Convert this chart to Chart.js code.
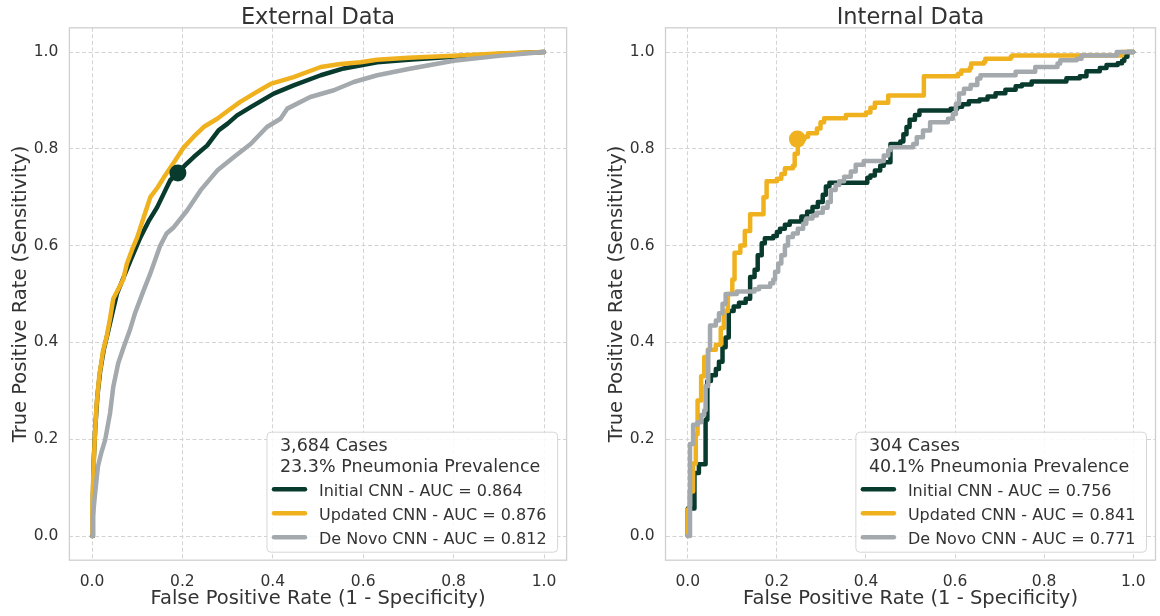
<!DOCTYPE html>
<html><head><meta charset="utf-8">
<script src="https://cdn.jsdelivr.net/npm/chart.js@4.4.0/dist/chart.umd.min.js"></script>
<style>
html,body{margin:0;padding:0;background:#fff;}
#wrap{position:relative;width:1160px;height:616px;overflow:hidden;background:#fff;}
canvas{position:absolute;top:0;}
</style></head><body>
<div id="wrap">
<canvas id="c1" width="580" height="616" style="left:0px"></canvas>
<canvas id="c2" width="584" height="616" style="left:580px"></canvas>
</div>
<script>
// ---------- data ----------
const TICKS = [0, 0.2, 0.4, 0.6, 0.8, 1.0];
const PANEL_TITLES = ['External Data', 'Internal Data'];
const X_TITLE = 'False Positive Rate (1 - Specificity)';
const Y_TITLE = 'True Positive Rate (Sensitivity)';
const MODELS = ['Initial CNN', 'Updated CNN', 'De Novo CNN'];
const EXT_AUC = ['0.864', '0.876', '0.812'];
const INT_AUC = ['0.756', '0.841', '0.771'];
const EXT_NOTE = ['3,684 Cases', '23.3% Pneumonia Prevalence'];
const INT_NOTE = ['304 Cases', '40.1% Pneumonia Prevalence'];

// External data ROC curves [fpr, tpr]
const EXT_INITIAL = [[0,0],[0.002,0.08],[0.004,0.16],[0.007,0.22],[0.012,0.29],[0.018,0.34],[0.026,0.385],[0.035,0.42],[0.045,0.46],[0.055,0.5],[0.068,0.53],[0.085,0.569],[0.107,0.617],[0.125,0.65],[0.144,0.679],[0.16,0.71],[0.173,0.735],[0.19,0.75],[0.205,0.765],[0.225,0.783],[0.255,0.807],[0.28,0.838],[0.3,0.852],[0.321,0.869],[0.351,0.886],[0.402,0.914],[0.446,0.931],[0.506,0.952],[0.557,0.966],[0.631,0.979],[0.7,0.984],[0.8,0.99],[0.9,0.996],[1,1]];
const EXT_UPDATED = [[0,0],[0.001,0.06],[0.003,0.13],[0.006,0.2],[0.01,0.27],[0.016,0.33],[0.024,0.38],[0.032,0.41],[0.04,0.45],[0.047,0.49],[0.058,0.51],[0.069,0.53],[0.077,0.562],[0.09,0.595],[0.1,0.617],[0.115,0.66],[0.129,0.7],[0.145,0.72],[0.159,0.741],[0.18,0.77],[0.203,0.803],[0.225,0.825],[0.247,0.845],[0.277,0.862],[0.3,0.878],[0.328,0.897],[0.36,0.915],[0.395,0.934],[0.446,0.948],[0.506,0.969],[0.55,0.975],[0.594,0.979],[0.63,0.984],[0.7,0.988],[0.8,0.992],[0.9,0.997],[1,1]];
const EXT_DENOVO = [[0,0],[0.002,0.04],[0.006,0.08],[0.013,0.143],[0.02,0.17],[0.029,0.198],[0.04,0.254],[0.047,0.308],[0.058,0.357],[0.07,0.39],[0.084,0.426],[0.095,0.46],[0.114,0.507],[0.128,0.54],[0.151,0.6],[0.165,0.625],[0.181,0.638],[0.21,0.672],[0.24,0.714],[0.277,0.755],[0.314,0.783],[0.351,0.81],[0.387,0.845],[0.417,0.862],[0.432,0.883],[0.483,0.907],[0.535,0.921],[0.579,0.938],[0.631,0.952],[0.7,0.965],[0.8,0.982],[0.9,0.992],[1,1]];
const EXT_OPERATING = [[0.19, 0.75]];

// Internal data ROC curves [fpr where the step rises, tpr after the rise]
const INT_INITIAL = [[0,0],[0,0.057],[0.015,0.13],[0.025,0.148],[0.04,0.24],[0.044,0.32],[0.052,0.332],[0.063,0.345],[0.07,0.36],[0.078,0.39],[0.085,0.41],[0.092,0.465],[0.103,0.474],[0.115,0.482],[0.13,0.49],[0.14,0.535],[0.15,0.55],[0.157,0.58],[0.166,0.605],[0.173,0.615],[0.192,0.62],[0.2,0.628],[0.207,0.635],[0.218,0.643],[0.229,0.65],[0.255,0.66],[0.268,0.67],[0.28,0.68],[0.292,0.69],[0.303,0.705],[0.31,0.722],[0.318,0.73],[0.403,0.74],[0.41,0.745],[0.42,0.755],[0.432,0.765],[0.44,0.772],[0.455,0.81],[0.477,0.815],[0.484,0.83],[0.491,0.845],[0.498,0.86],[0.51,0.87],[0.52,0.879],[0.59,0.883],[0.605,0.887],[0.616,0.892],[0.631,0.898],[0.655,0.902],[0.673,0.908],[0.691,0.915],[0.713,0.922],[0.736,0.929],[0.75,0.933],[0.772,0.939],[0.85,0.946],[0.88,0.95],[0.895,0.96],[0.925,0.967],[0.94,0.973],[0.965,0.977],[0.975,0.982],[0.98,0.99],[0.987,1.0],[1,1]];
const INT_UPDATED = [[0,0],[0,0.055],[0.004,0.092],[0.012,0.15],[0.018,0.21],[0.022,0.28],[0.03,0.33],[0.037,0.37],[0.045,0.385],[0.063,0.395],[0.074,0.43],[0.081,0.465],[0.09,0.5],[0.1,0.53],[0.105,0.585],[0.118,0.6],[0.128,0.63],[0.14,0.665],[0.17,0.7],[0.177,0.733],[0.2,0.738],[0.21,0.748],[0.218,0.76],[0.236,0.765],[0.24,0.79],[0.247,0.82],[0.262,0.825],[0.27,0.832],[0.29,0.842],[0.298,0.855],[0.306,0.863],[0.355,0.87],[0.4,0.875],[0.41,0.885],[0.42,0.895],[0.45,0.91],[0.53,0.95],[0.607,0.955],[0.614,0.962],[0.633,0.967],[0.636,0.976],[0.665,0.98],[0.668,0.986],[0.725,0.99],[0.728,0.993],[0.975,1.0],[1,1]];
const INT_DENOVO = [[0,0],[0.005,0.19],[0.012,0.23],[0.022,0.235],[0.03,0.25],[0.037,0.26],[0.04,0.31],[0.046,0.385],[0.05,0.435],[0.063,0.445],[0.07,0.46],[0.078,0.48],[0.085,0.5],[0.11,0.505],[0.15,0.51],[0.16,0.515],[0.185,0.522],[0.192,0.53],[0.196,0.546],[0.203,0.563],[0.21,0.58],[0.218,0.6],[0.225,0.618],[0.236,0.625],[0.247,0.635],[0.259,0.645],[0.266,0.656],[0.28,0.662],[0.29,0.668],[0.303,0.678],[0.314,0.69],[0.321,0.715],[0.332,0.725],[0.34,0.733],[0.351,0.742],[0.366,0.753],[0.377,0.767],[0.395,0.775],[0.44,0.786],[0.45,0.797],[0.455,0.803],[0.506,0.81],[0.514,0.824],[0.528,0.838],[0.544,0.855],[0.584,0.862],[0.595,0.872],[0.602,0.893],[0.609,0.914],[0.62,0.924],[0.635,0.932],[0.65,0.945],[0.657,0.952],[0.736,0.959],[0.78,0.969],[0.83,0.976],[0.836,0.983],[0.873,0.986],[0.884,0.993],[0.963,1.0],[1,1]];
const INT_OPERATING = [[0.246, 0.82]];

// ---------- styles ----------
const COLORS = ['#083b2d', '#f0b11e', '#a3a9ac'];
const FONT = '"DejaVu Sans", "Liberation Sans", sans-serif';
const TEXT = '#333333';
const GRID = '#d3d3d3';
const FRAME = '#cfcfcf';

const toXY = arr => arr.map(p => ({x: p[0], y: p[1]}));

const framePlugin = {
  id: 'frame',
  beforeDatasetsDraw(chart) {
    const {ctx, chartArea: a} = chart;
    ctx.save();
    ctx.strokeStyle = FRAME;
    ctx.lineWidth = 1.3;
    ctx.strokeRect(a.left, a.top, a.right - a.left, a.bottom - a.top);
    ctx.restore();
  }
};

const titlePlugin = {
  id: 'panelTitle',
  afterDraw(chart, args, opts) {
    const {ctx, chartArea: a} = chart;
    ctx.save();
    ctx.font = '22.5px ' + FONT;
    ctx.fillStyle = TEXT;
    ctx.textAlign = 'center';
    ctx.textBaseline = 'alphabetic';
    ctx.fillText(opts.text, (a.left + a.right) / 2, 23.5);
    ctx.restore();
  }
};

function roundRectPath(ctx, x, y, w, h, r) {
  ctx.beginPath();
  ctx.moveTo(x + r, y);
  ctx.lineTo(x + w - r, y);
  ctx.arcTo(x + w, y, x + w, y + r, r);
  ctx.lineTo(x + w, y + h - r);
  ctx.arcTo(x + w, y + h, x + w - r, y + h, r);
  ctx.lineTo(x + r, y + h);
  ctx.arcTo(x, y + h, x, y + h - r, r);
  ctx.lineTo(x, y + r);
  ctx.arcTo(x, y, x + r, y, r);
  ctx.closePath();
}

const legendPlugin = {
  id: 'boxLegend',
  afterDatasetsDraw(chart, args, opts) {
    const {ctx, chartArea: a} = chart;
    const items = chart.data.datasets.filter(d => d.inLegend);
    ctx.save();
    const noteFont = '17.5px ' + FONT, itemFont = '16px ' + FONT;
    let w = 0;
    ctx.font = noteFont;
    opts.notes.forEach(n => { w = Math.max(w, ctx.measureText(n).width + 24); });
    ctx.font = itemFont;
    items.forEach(d => { w = Math.max(w, ctx.measureText(d.label).width + 63); });
    const h = 120;
    const x0 = a.right - 9 - w, y0 = a.bottom - 8 - h;
    roundRectPath(ctx, x0, y0, w, h, 4);
    ctx.fillStyle = 'rgba(255,255,255,0.85)';
    ctx.fill();
    ctx.strokeStyle = '#d6d6d6';
    ctx.lineWidth = 1;
    ctx.stroke();
    ctx.fillStyle = TEXT;
    ctx.textAlign = 'left';
    ctx.textBaseline = 'alphabetic';
    ctx.font = noteFont;
    ctx.fillText(opts.notes[0], x0 + 13, y0 + 19);
    ctx.fillText(opts.notes[1], x0 + 13, y0 + 40);
    ctx.font = itemFont;
    items.forEach((d, i) => {
      const ly = y0 + 57 + i * 24;
      ctx.strokeStyle = d.borderColor;
      ctx.lineWidth = 4.5;
      ctx.lineCap = 'round';
      ctx.beginPath();
      ctx.moveTo(x0 + 7, ly);
      ctx.lineTo(x0 + 38, ly);
      ctx.stroke();
      ctx.fillStyle = TEXT;
      ctx.fillText(d.label, x0 + 52, ly + 6.5);
    });
    ctx.restore();
  }
};

function makeChart(id, title, curves, aucs, notes, op, opColor, stepped, yWidth, padRight) {
  const datasets = curves.map((c, i) => ({
    label: MODELS[i] + ' - AUC = ' + aucs[i],
    inLegend: true,
    data: toXY(c),
    borderColor: COLORS[i],
    backgroundColor: COLORS[i],
    borderWidth: 4.5,
    borderCapStyle: 'round',
    borderJoinStyle: 'round',
    pointRadius: 0,
    tension: 0,
    stepped: stepped,
    fill: false,
    order: 3 - i
  }));
  datasets.push({
    label: 'operating point',
    inLegend: false,
    type: 'scatter',
    data: toXY(op),
    pointRadius: 8.5,
    pointBackgroundColor: opColor,
    pointBorderColor: opColor,
    pointBorderWidth: 0,
    showLine: false,
    order: 0
  });
  return new Chart(document.getElementById(id), {
    type: 'line',
    data: {datasets},
    options: {
      responsive: false,
      animation: false,
      devicePixelRatio: 1,
      events: [],
      layout: {padding: {left: 0, right: padRight, top: 27.8, bottom: 0}},
      plugins: {
        legend: {display: false},
        tooltip: {enabled: false},
        title: {display: false},
        panelTitle: {text: title},
        boxLegend: {notes: notes}
      },
      scales: {
        x: {
          type: 'linear', min: -0.05, max: 1.05,
          afterBuildTicks: s => { s.ticks = TICKS.map(v => ({value: v})); },
          afterFit: s => { s.height = 616 - 560.2; },
          grid: {color: GRID, lineWidth: 1, drawTicks: false},
          border: {display: false, dash: [4, 2.5]},
          ticks: {
            color: TEXT, font: {family: FONT, size: 15.5}, padding: 12,
            maxRotation: 0, autoSkip: false,
            callback: v => v.toFixed(1)
          },
          title: {display: true, text: X_TITLE, color: TEXT, font: {family: FONT, size: 19.5}, padding: {top: 0, bottom: 5.5}}
        },
        y: {
          type: 'linear', min: -0.05, max: 1.05,
          afterBuildTicks: s => { s.ticks = TICKS.map(v => ({value: v})); },
          afterFit: s => { s.width = yWidth; },
          grid: {color: GRID, lineWidth: 1, drawTicks: false},
          border: {display: false, dash: [4, 2.5]},
          ticks: {
            color: TEXT, font: {family: FONT, size: 15.5}, padding: 11,
            autoSkip: false,
            callback: v => v.toFixed(1)
          },
          title: {display: true, text: Y_TITLE, color: TEXT, font: {family: FONT, size: 19.5}, padding: {top: yWidth - 69.4 + 9, bottom: 0}}
        }
      }
    },
    plugins: [framePlugin, titlePlugin, legendPlugin]
  });
}

makeChart('c1', PANEL_TITLES[0], [EXT_INITIAL, EXT_UPDATED, EXT_DENOVO], EXT_AUC, EXT_NOTE, EXT_OPERATING, COLORS[0], false, 69.4, 580 - 566.6);
makeChart('c2', PANEL_TITLES[1], [INT_INITIAL, INT_UPDATED, INT_DENOVO], INT_AUC, INT_NOTE, INT_OPERATING, COLORS[1], true, 85.5, 584 - 581.5);
</script>
</body></html>
